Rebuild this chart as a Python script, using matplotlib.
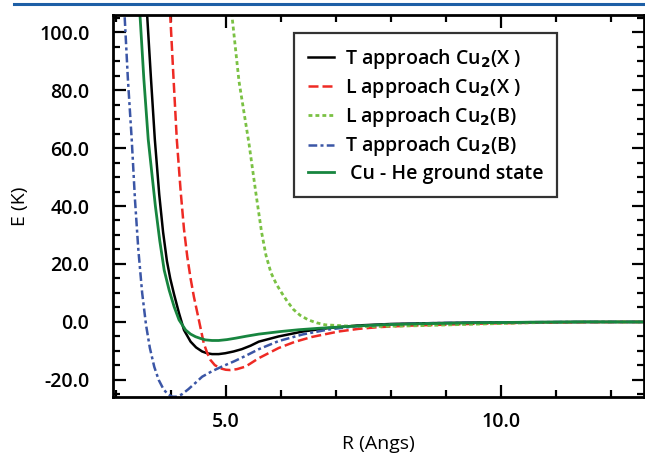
import matplotlib
matplotlib.use("Agg")
import matplotlib.pyplot as plt
from matplotlib.lines import Line2D
from matplotlib.ticker import MultipleLocator, FormatStrFormatter

plt.rcParams['font.family'] = ['Open Sans', 'DejaVu Sans']
plt.rcParams['font.weight'] = 'semibold'

# curves (R in Angstrom, E in K)
black_r = [3.50, 3.57, 3.64, 3.71, 3.79, 3.86, 3.93, 3.99, 4.06, 4.15, 4.24, 4.36, 4.46,
           4.57, 4.66, 4.75, 4.87, 4.99, 5.14, 5.29, 5.45, 5.6, 5.96, 6.4, 6.87, 7.41,
           8.0, 8.8, 9.6, 10.5, 11.5, 12.6]
black_e = [130, 106, 84, 63, 44, 31, 21, 15, 9.5, 3.0, -2.8, -6.8, -8.8,
           -10.2, -10.8, -11.1, -11.1, -10.8, -10.2, -9.4, -8.2, -6.8, -5.0, -3.3, -2.1, -1.2,
           -0.7, -0.4, -0.2, -0.1, 0, 0]

red_r = [3.93, 3.99, 4.05, 4.11, 4.18, 4.24, 4.30, 4.36, 4.42, 4.51, 4.60, 4.66, 4.72,
         4.80, 4.90, 5.0, 5.08, 5.2, 5.36, 5.6, 5.96, 6.25, 6.56, 7.05, 7.41, 7.77, 8.3,
         8.86, 9.6, 10.5, 11.5, 12.6]
red_e = [130, 106, 84, 62.8, 45, 32, 22.5, 15, 8.7, 0.7, -7.4, -10.6, -13.1,
         -14.9, -16.0, -16.5, -16.6, -16.3, -15.4, -12.5, -9.0, -6.9, -5.2, -3.3, -2.4, -1.8,
         -1.3, -1.0, -0.6, -0.3, -0.1, 0]

lgreen_r = [5.0, 5.11, 5.24, 5.42, 5.55, 5.65, 5.73, 5.82, 5.92, 6.01, 6.12, 6.23, 6.35,
            6.5, 6.65, 6.81, 7.2, 7.65, 8.5, 9.46, 10.5, 11.5, 12.6]
lgreen_e = [125, 106, 83, 61.7, 44, 31, 23, 17, 13, 10.2, 7.0, 4.3, 2.3,
            0.7, -0.3, -1.0, -1.4, -1.6, -1.3, -0.8, -0.3, 0, 0]

blue_r = [3.10, 3.16, 3.22, 3.29, 3.35, 3.41, 3.48, 3.55, 3.62, 3.70, 3.78, 3.87,
          3.95, 4.03, 4.1, 4.2, 4.32, 4.45, 4.57, 4.75, 4.93, 5.15, 5.36, 5.6, 5.96,
          6.4, 6.87, 7.41, 8.0, 8.8, 9.6, 10.5, 11.5, 12.6]
blue_e = [130, 106, 84, 63, 42, 25, 10, -1, -9, -15.5, -20, -23.3,
          -25.0, -25.8, -25.8, -25.0, -23.2, -21.0, -18.9, -17.0, -15.4, -13.6, -11.7, -9.4, -6.6,
          -4.3, -2.6, -1.4, -0.8, -0.4, -0.2, -0.1, 0, 0]

green_r = [3.38, 3.44, 3.51, 3.59, 3.72, 3.80, 3.88, 3.97, 4.06, 4.15, 4.27, 4.36,
           4.45, 4.54, 4.63, 4.75, 4.87, 5.02, 5.18, 5.38, 5.6, 6.0, 6.32, 6.68, 7.2,
           7.8, 8.6, 9.5, 10.5, 11.5, 12.6]
green_e = [130, 106, 84, 63, 40, 28, 17.9, 11.0, 5.3, 0.7, -2.8, -4.2,
           -5.1, -5.7, -6.2, -6.4, -6.4, -6.1, -5.6, -4.9, -4.2, -3.3, -2.7, -2.2, -1.6,
           -1.0, -0.6, -0.3, -0.1, 0, 0]

fig = plt.figure(figsize=(6.45, 4.53), dpi=100)
ax = fig.add_axes([113/645, 56/453, 531/645, 382/453])

ax.plot(black_r, black_e, color='black', lw=1.8, label=r'T approach Cu$_2$(X )')
ax.plot(red_r, red_e, color='#ee2a24', lw=1.8, dashes=(4, 1.6),
        label=r'L approach Cu$_2$(X )')
ax.plot(lgreen_r, lgreen_e, color='#7ac143', lw=2.0, dashes=(1.4, 1.1),
        label=r'L approach Cu$_2$(B)')
ax.plot(blue_r, blue_e, color='#3b56a6', lw=1.8, dashes=(3.5, 1.3, 1.2, 1.3),
        label=r'T approach Cu$_2$(B)')
ax.plot(green_r, green_e, color='#17853f', lw=2.0, label=' Cu - He ground state')

ax.set_xlim(2.95, 12.6)
ax.set_ylim(-25.9, 105.9)
ax.xaxis.set_major_locator(MultipleLocator(5))
ax.xaxis.set_minor_locator(MultipleLocator(1))
ax.yaxis.set_major_locator(MultipleLocator(20))
ax.yaxis.set_minor_locator(MultipleLocator(5))
ax.xaxis.set_major_formatter(FormatStrFormatter('%.1f'))
ax.yaxis.set_major_formatter(FormatStrFormatter('%.1f'))
ax.tick_params(which='both', direction='in', top=True, right=True, width=1.6,
               labelsize=14)
ax.tick_params(which='major', length=9)
ax.tick_params(which='minor', length=5)
ax.tick_params(axis='y', pad=17)
ax.tick_params(axis='x', pad=11)
for s in ax.spines.values():
    s.set_linewidth(2)

ax.set_xlabel('R (Angs)', fontsize=14, labelpad=2)
ax.set_ylabel('E (K)', fontsize=14, labelpad=7, fontweight='normal')

leg = ax.legend(loc='upper left', bbox_to_anchor=(0.341, 0.953), borderaxespad=0,
                fancybox=False, edgecolor='black', fontsize=14, handlelength=1.35,
                handletextpad=0.55, labelspacing=0.27, borderpad=0.7)
leg.get_frame().set_linewidth(1.6)

# journal header rule
fig.add_artist(Line2D([14/645, 1], [1 - 4/453, 1 - 4/453], color='#1d5fa6', lw=2.2))

fig.savefig('out.png', dpi=100)
